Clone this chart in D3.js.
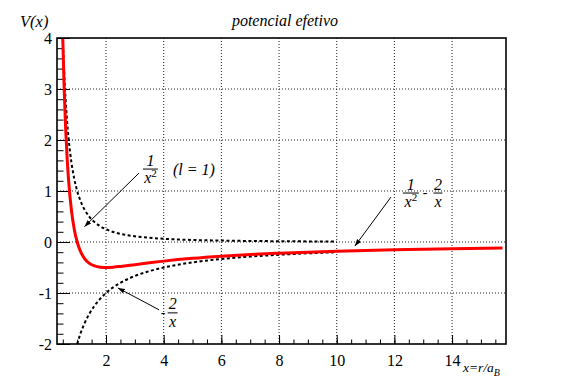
<!DOCTYPE html>
<html><head><meta charset="utf-8">
<script src="https://cdn.jsdelivr.net/npm/d3@7"></script>
<style>body{margin:0;background:#fff}svg{display:block}svg text{font-family:"Liberation Serif",serif !important}</style>
</head><body><svg id="c" width="563" height="382" font-family="Liberation Serif, serif"></svg>
<script>
// ---- data ----
const xTicks = [2, 4, 6, 8, 10, 12, 14];
const yTicks = [-2, -1, 0, 1, 2, 3, 4];
// red curve: effective potential
const effX = [0.47,0.5,0.55,0.6,0.65,0.7,0.8,0.9,1.0,1.1,1.25,1.4,1.6,1.8,2.0,2.25,2.5,3,3.5,4,5,6,7,8,10,12,14,15.75];
const effV = [4.799,4,2.975,2.222,1.657,1.224,0.625,0.247,0,-0.165,-0.32,-0.408,-0.469,-0.494,-0.5,-0.494,-0.48,-0.444,-0.408,-0.375,-0.32,-0.278,-0.245,-0.219,-0.18,-0.153,-0.133,-0.119];
// dashed: centrifugal term
const cenX = [0.47,0.5,0.55,0.6,0.65,0.7,0.8,0.9,1,1.1,1.25,1.4,1.6,1.8,2,2.5,3,3.5,4,5,6,7,8,9,10];
const cenV = [4.527,4,3.306,2.778,2.367,2.041,1.5625,1.235,1,0.826,0.64,0.51,0.391,0.309,0.25,0.16,0.111,0.082,0.0625,0.04,0.028,0.02,0.016,0.012,0.01];
// dashed: coulomb term
const couX = [0.95,1,1.1,1.25,1.4,1.6,1.8,2,2.5,3,3.5,4,5,6,7,8,9,10];
const couV = [-2.105,-2,-1.818,-1.6,-1.429,-1.25,-1.111,-1,-0.8,-0.667,-0.571,-0.5,-0.4,-0.333,-0.286,-0.25,-0.222,-0.2];

const FONT = "Liberation Serif, serif";
const svg = d3.select("#c");
const L=57, R=506, T=38, B=344;
const x = d3.scaleLinear().domain([0.3, 15.87]).range([L, R]);
const y = d3.scaleLinear().domain([-2, 4]).range([B, T]);

svg.append("defs").append("clipPath").attr("id","clip")
  .append("rect").attr("x",L).attr("y",T).attr("width",R-L).attr("height",B-T);
const mk = svg.select("defs").append("marker").attr("id","arr")
  .attr("viewBox","0 0 10 10").attr("refX",10).attr("refY",5)
  .attr("markerWidth",7).attr("markerHeight",7).attr("orient","auto").attr("markerUnits","userSpaceOnUse");
mk.append("path").attr("d","M0,1.5 L10,5 L0,8.5 Z").attr("fill","#000");

// grid
const g = svg.append("g");
g.selectAll(".gx").data(xTicks).join("line")
  .attr("x1",d=>x(d)).attr("x2",d=>x(d)).attr("y1",T).attr("y2",B)
  .attr("stroke","#222").attr("stroke-width",1).attr("stroke-dasharray","1,2");
g.selectAll(".gy").data(yTicks.filter(d=>d>-2&&d<4)).join("line")
  .attr("y1",d=>y(d)).attr("y2",d=>y(d)).attr("x1",L).attr("x2",R)
  .attr("stroke","#222").attr("stroke-width",1).attr("stroke-dasharray","1,2");

// axes
const fmt = d => String(d);
const xAxis = d3.axisBottom(x).tickValues(xTicks).tickSize(-9).tickPadding(11).tickFormat(fmt);
const xMinor = d3.axisBottom(x).tickValues(d3.range(0.5, 15.87, 0.5)).tickSize(-4.5).tickFormat("");
const yAxis = d3.axisLeft(y).tickValues(yTicks).tickSize(-13).tickPadding(5).tickFormat(fmt);
const yMinor = d3.axisLeft(y).tickValues(d3.range(-2, 4.001, 0.2)).tickSize(-6.5).tickFormat("");
function style(sel){ sel.attr("font-family",FONT); sel.select(".domain").remove();
  sel.selectAll("line").attr("stroke","#000").attr("stroke-width",1);
  sel.selectAll("text").attr("font-size",16).attr("font-family",FONT).attr("fill","#000"); }
svg.append("g").attr("transform",`translate(0,${B})`).call(xMinor).call(style);
svg.append("g").attr("transform",`translate(0,${B})`).call(xAxis).call(style);
svg.append("g").attr("transform",`translate(${L},0)`).call(yMinor).call(style);
svg.append("g").attr("transform",`translate(${L},0)`).call(yAxis).call(style);

// curves
const line = d3.line().x(d=>x(d[0])).y(d=>y(d[1])).curve(d3.curveMonotoneX);
const cg = svg.append("g").attr("clip-path","url(#clip)");
cg.append("path").datum(d3.zip(cenX,cenV)).attr("d",line).attr("fill","none")
  .attr("stroke","#000").attr("stroke-width",2).attr("stroke-dasharray","3,2.5");
cg.append("path").datum(d3.zip(couX,couV)).attr("d",line).attr("fill","none")
  .attr("stroke","#000").attr("stroke-width",2).attr("stroke-dasharray","3,2.5");
cg.append("path").datum(d3.zip(effX,effV)).attr("d",line).attr("fill","none")
  .attr("stroke","#ff0000").attr("stroke-width",3);

// frame
svg.append("rect").attr("x",L).attr("y",T).attr("width",R-L).attr("height",B-T)
  .attr("fill","none").attr("stroke","#000").attr("stroke-width",1.6);

function txt(px,py,s,size,italic,anchor){
  return svg.append("text").attr("x",px).attr("y",py).attr("font-family",FONT).attr("font-size",size)
    .attr("font-style",italic?"italic":"normal").attr("text-anchor",anchor||"start").text(s);
}
// titles
txt(285,26,"potencial efetivo",16,true,"middle");
txt(20,27,"V(x)",16.5,true);
const xt = txt(463,372,"",13.5,true);
xt.append("tspan").text("x=r/a");
xt.append("tspan").attr("font-size",10).attr("dy",4).text("B");

// annotations
function arrow(x0,y0,x1,y1){
  svg.append("line").attr("x1",x(x0)).attr("y1",y(y0)).attr("x2",x(x1)).attr("y2",y(y1))
    .attr("stroke","#000").attr("stroke-width",1).attr("marker-end","url(#arr)");
}
function frac(cx, barV, w, num, den, sup){
  const X = x(cx), Y = y(barV);
  svg.append("line").attr("x1",X-w/2).attr("x2",X+w/2).attr("y1",Y).attr("y2",Y).attr("stroke","#000").attr("stroke-width",1);
  txt(X,Y-3.5,num,16,true,"middle");
  const t = txt(X,Y+14,"",16,true,"middle");
  t.append("tspan").text(den);
  if(sup){ t.append("tspan").attr("font-size",11).attr("font-style","normal").attr("dy",-6).text(sup); }
}
// 1/x^2 (l = 1)
frac(3.54, 1.43, 15, "1", "x", "2");
txt(x(4.32),y(1.31),"(l = 1)",16,true);
arrow(3.14, 1.35, 1.25, 0.3);
// -2/x
frac(4.31, -1.39, 10, "2", "x", null);
txt(x(3.98),y(-1.39)+4,"-",14,false,"middle");
arrow(3.84, -1.33, 2.41, -0.9);
// 1/x^2 - 2/x
frac(12.57, 0.96, 16, "1", "x", "2");
txt(x(13.06),y(0.96)+4,"-",14,false,"middle");
frac(13.51, 0.96, 9, "2", "x", null);
arrow(11.88, 0.88, 10.63, -0.08);
</script></body></html>
